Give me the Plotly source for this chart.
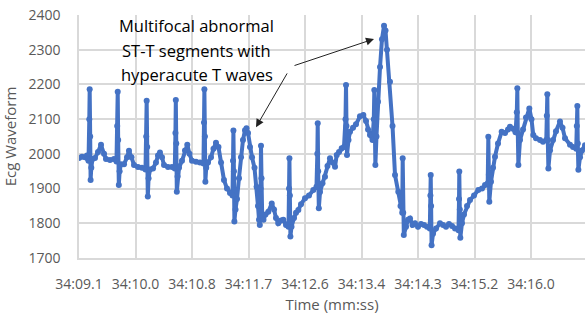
import plotly.graph_objects as go

# time in seconds within minute 34 (34:SS.s)
time_s = [
    9.100, 9.146, 9.192, 9.222, 9.237, 9.245, 9.257, 9.263, 9.271, 9.277, 9.288, 9.306, 9.344, 9.390, 9.436,
    9.482, 9.512, 9.573, 9.634, 9.672, 9.683, 9.691, 9.698, 9.708, 9.720, 9.741, 9.787, 9.833, 9.863, 9.901,
    9.940, 10.001, 10.062, 10.115, 10.126, 10.133, 10.141, 10.150, 10.162, 10.184, 10.230, 10.275, 10.306,
    10.336, 10.367, 10.398, 10.459, 10.520, 10.562, 10.572, 10.578, 10.585, 10.593, 10.605, 10.627, 10.672,
    10.718, 10.753, 10.787, 10.825, 10.886, 10.947, 11.000, 11.008, 11.014, 11.022, 11.029, 11.042, 11.069,
    11.115, 11.153, 11.191, 11.229, 11.268, 11.313, 11.359, 11.405, 11.443, 11.451, 11.457, 11.465, 11.472,
    11.489, 11.512, 11.542, 11.573, 11.603, 11.634, 11.657, 11.680, 11.710, 11.741, 11.779, 11.810, 11.832,
    11.848, 11.860, 11.872, 11.878, 11.886, 11.897, 11.916, 11.947, 11.990, 12.042, 12.077, 12.107, 12.142,
    12.184, 12.219, 12.260, 12.298, 12.306, 12.312, 12.319, 12.327, 12.344, 12.382, 12.413, 12.448, 12.489,
    12.550, 12.611, 12.677, 12.725, 12.738, 12.744, 12.751, 12.761, 12.779, 12.817, 12.855, 12.893, 12.931,
    12.970, 13.008, 13.034, 13.069, 13.110, 13.145, 13.168, 13.176, 13.183, 13.191, 13.214, 13.237, 13.283,
    13.328, 13.389, 13.440, 13.481, 13.512, 13.542, 13.580, 13.600, 13.608, 13.615, 13.624, 13.641, 13.664,
    13.695, 13.725, 13.756, 13.779, 13.802, 13.847, 13.886, 13.924, 13.974, 14.008, 14.034, 14.041, 14.049,
    14.058, 14.092, 14.122, 14.153, 14.191, 14.229, 14.275, 14.321, 14.366, 14.412, 14.455, 14.464, 14.469,
    14.475, 14.482, 14.504, 14.550, 14.611, 14.657, 14.702, 14.748, 14.794, 14.840, 14.893, 14.901, 14.905,
    14.913, 14.921, 14.946, 14.977, 15.023, 15.069, 15.130, 15.195, 15.252, 15.298, 15.339, 15.348, 15.356,
    15.363, 15.389, 15.420, 15.450, 15.496, 15.552, 15.603, 15.649, 15.679, 15.725, 15.763, 15.783, 15.791,
    15.798, 15.807, 15.832, 15.878, 15.923, 15.974, 16.007, 16.035, 16.076, 16.137, 16.183, 16.233, 16.241,
    16.249, 16.256, 16.265, 16.290, 16.336, 16.381, 16.442, 16.481, 16.519, 16.595, 16.641, 16.690, 16.699,
    16.707, 16.714, 16.723, 16.748, 16.778, 16.824,
]

ecg_values = [
    1988, 1992, 1990, 1995, 1985, 1980, 2100, 2186, 2050, 1925, 1960, 1985, 1988, 2005, 2026,
    2000, 1985, 1982, 1985, 1978, 2080, 2179, 2040, 1910, 1950, 1970, 1970, 1990, 2009, 1990,
    1968, 1962, 1960, 1955, 2050, 2153, 2020, 1877, 1930, 1955, 1958, 1975, 1995,
    2004, 1990, 1968, 1962, 1962, 1958, 2060, 2155, 2030, 1891, 1935, 1960, 1980,
    2010, 2026, 2000, 1980, 1977, 1975, 1972, 2090, 2186, 2050, 1920, 1960, 1975,
    1990, 2015, 2032, 2020, 1975, 1925, 1900, 1887, 1880, 1980, 2067, 1950, 1805,
    1840, 1870, 1930, 1990, 2040, 2068, 2074, 2060, 2020, 1990, 1960, 1905, 1850,
    1810, 1795, 1900, 2023, 1930, 1815, 1810, 1825, 1833, 1857, 1840, 1815, 1800,
    1808, 1810, 1795, 1790, 1900, 1987, 1880, 1762, 1790, 1815, 1830, 1838, 1855,
    1872, 1880, 1896, 1905, 2000, 2088, 1950, 1843, 1890, 1915, 1934, 1965, 1987,
    1975, 1963, 1997, 2005, 2016, 2020, 2100, 2198, 2080, 1997, 2040, 2064, 2075,
    2085, 2108, 2112, 2095, 2070, 2054, 2040, 2100, 2184, 2060, 1968, 2050, 2150,
    2250, 2330, 2369, 2355, 2300, 2208, 2080, 1939, 1891, 1850, 1830, 1987, 1830,
    1766, 1790, 1810, 1814, 1795, 1800, 1790, 1798, 1795, 1790, 1785, 1880, 1939,
    1850, 1737, 1770, 1785, 1800, 1795, 1790, 1798, 1792, 1785, 1780, 1870, 1949,
    1840, 1758, 1800, 1825, 1850, 1867, 1880, 1896, 1900, 1910, 1915, 2049, 1940,
    1862, 1920, 1960, 1992, 2030, 2064, 2060, 2070, 2078, 2072, 2062, 2120, 2189,
    2060, 1968, 2040, 2070, 2105, 2131, 2100, 2054, 2045, 2040, 2035, 2040, 2110,
    2172, 2040, 1958, 2010, 2040, 2065, 2093, 2075, 2045, 2026, 2020, 2015, 2080,
    2138, 2030, 1954, 1990, 2010, 2025,
]

tick_positions = [9.1, 9.9625, 10.825, 11.6875, 12.55, 13.4125, 14.275, 15.1375, 16.0]
tick_labels = ["34:09.1", "34:10.0", "34:10.8", "34:11.7", "34:12.6", "34:13.4",
               "34:14.3", "34:15.2", "34:16.0"]
y_ticks = [1700, 1800, 1900, 2000, 2100, 2200, 2300, 2400]

note_lines = ["Multifocal abnormal", "ST-T segments with", "hyperacute T waves"]

blue = "#4472C4"
grid = "#d9d9d9"
label_col = "#595959"
font_family = "Open Sans, Liberation Sans, Arial, sans-serif"

fig = go.Figure()
fig.add_trace(go.Scatter(
    x=time_s, y=ecg_values, mode="lines+markers",
    line=dict(color=blue, width=4),
    marker=dict(color=blue, size=6),
    showlegend=False, hoverinfo="skip", cliponaxis=True,
))

annotations = []
line_y = [2370, 2298, 2229]
for txt, yy in zip(note_lines, line_y):
    annotations.append(dict(
        x=10.90, y=yy, xref="x", yref="y", text=txt, showarrow=False,
        font=dict(family=font_family, size=16.5, color="#000000"),
        xanchor="center", yanchor="middle",
    ))
# arrows
annotations.append(dict(x=13.603, y=2331, ax=12.367, ay=2253, xref="x", yref="y",
                        axref="x", ayref="y", text="", showarrow=True,
                        arrowhead=2, arrowsize=1.6, arrowwidth=1, arrowcolor="#222222"))
annotations.append(dict(x=11.802, y=2077, ax=12.290, ay=2236, xref="x", yref="y",
                        axref="x", ayref="y", text="", showarrow=True,
                        arrowhead=2, arrowsize=1.6, arrowwidth=1, arrowcolor="#222222"))

fig.update_layout(
    width=585, height=315,
    margin=dict(l=79, r=0, t=15, b=57, autoexpand=False),
    paper_bgcolor="white", plot_bgcolor="white",
    font=dict(family=font_family, size=14, color=label_col),
    annotations=annotations,
    xaxis=dict(
        range=[9.1, 16.824], tickmode="array", tickvals=tick_positions, ticktext=tick_labels,
        showgrid=True, gridcolor=grid, gridwidth=1.5, zeroline=False,
        showline=True, linecolor=grid, linewidth=1.5, automargin=False,
        ticks="", ticklabelstandoff=12,
        tickfont=dict(size=14, color=label_col),
        title=dict(text="Time (mm:ss)", font=dict(size=15, color=label_col), standoff=8),
    ),
    yaxis=dict(
        range=[1700, 2400], tickmode="array", tickvals=y_ticks,
        showgrid=True, gridcolor=grid, gridwidth=1.5, zeroline=False,
        showline=True, linecolor=grid, linewidth=1.5, automargin=False,
        ticks="", ticklabelstandoff=14,
        tickfont=dict(size=14, color=label_col),
        title=dict(text="Ecg Waveform", font=dict(size=15, color=label_col), standoff=12),
    ),
)

fig.write_html("out.html", config={"displayModeBar": False},
               post_script="document.body.style.margin='0';")
